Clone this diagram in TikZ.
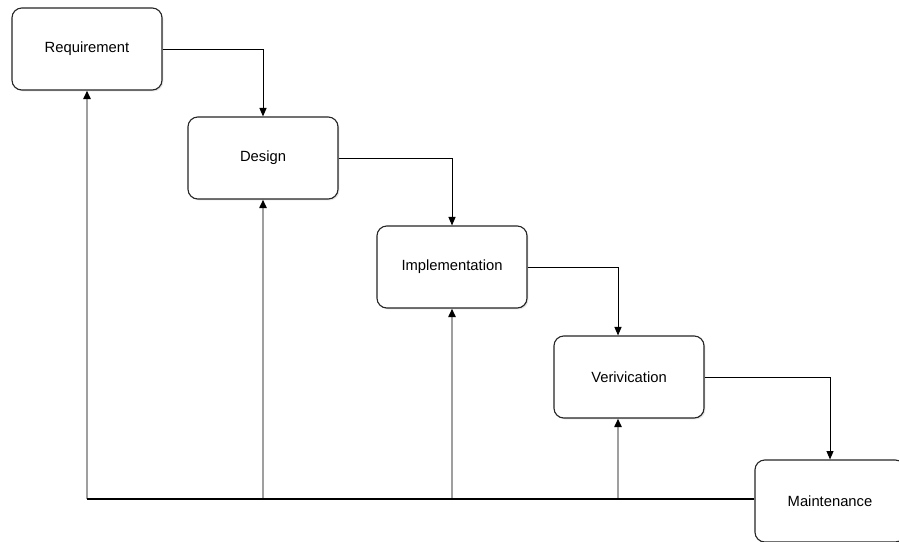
\documentclass[tikz,border=0pt]{standalone}
\usepackage{fontspec}
\setmainfont{Liberation Sans}
\usepackage{tikz}
\usetikzlibrary{arrows.meta,calc,shadows}

\tikzset{
  phase/.style={draw=black!85, line width=0.8pt, rounded corners=7pt, fill=white,
    minimum width=3.75cm, minimum height=2.05cm, font=\fontsize{10.5}{12}\selectfont,
    drop shadow={opacity=0.2, shadow xshift=1pt, shadow yshift=-1pt}},
  down/.style={line width=0.7pt, -{Triangle[length=6pt,width=5pt]}},
  back/.style={gray!75, line width=1.7pt, -{Triangle[length=6pt,width=5pt,color=black]}}
}

\begin{document}
\begin{tikzpicture}[x=0.025cm, y=-0.025cm]

\useasboundingbox (0,0) rectangle (899,541);
\clip (0,0) rectangle (899,541);

\node[phase] (req) at (87,49)  {Requirement};
\node[phase] (des) at (263,158) {Design};
\node[phase] (imp) at (452,267) {Implementation};
\node[phase] (ver) at (629,377) {Verivication};
\node[phase] (mai) at (830,501) {Maintenance};

% going down
\draw[down] (req.east) -| (des.north);
\draw[down] (des.east) -| (imp.north);
\draw[down] (imp.east) -| ($(ver.north)+(-11,0)$);
\draw[down] (ver.east) -| (mai.north);

% going back
\coordinate (base) at ($(req.south |- mai.west)+(0,-2)$);
\draw[back] (base) -- (req.south);
\draw[back] (des.south |- base) -- (des.south);
\draw[back] (imp.south |- base) -- (imp.south);
\draw[back] ($(ver.south |- base)+(-11,0)$) -- ($(ver.south)+(-11,0)$);
\draw[line width=0.8pt] (mai.west |- base) -- (base);

\end{tikzpicture}
\end{document}
